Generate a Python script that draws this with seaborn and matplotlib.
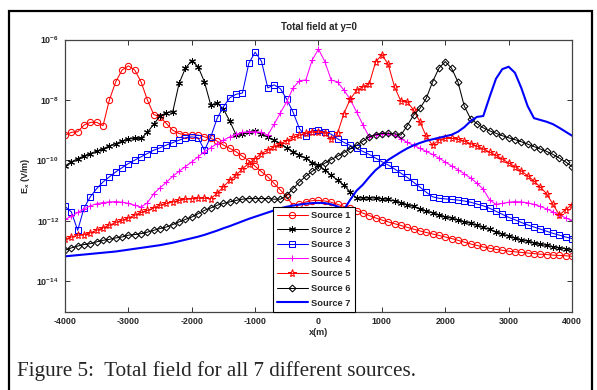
import matplotlib

matplotlib.use("Agg")
import matplotlib.pyplot as plt
import numpy as np
import pandas as pd
import seaborn as sns
from matplotlib.patches import Rectangle
from matplotlib.ticker import NullLocator

# x grid of the computation (m), one sample every 100 m
x_m = np.arange(-4000, 4001, 100)

# log10(Ex), one value per x sample
src1_log = [-9.16, -9.07, -9.05, -8.83, -8.74, -8.74, -8.85, -8.00, -7.40, -7.01,
            -6.87, -7.01, -7.40, -8.00, -8.48, -8.56, -8.78, -9.00, -9.11, -9.15,
            -9.15, -9.16, -9.22, -9.27, -9.36, -9.49, -9.60, -9.71, -9.86, -10.01,
            -10.19, -10.37, -10.54, -10.76, -10.98, -11.20, -11.50, -11.44, -11.37, -11.33,
            -11.32, -11.34, -11.38, -11.45, -11.52, -11.58, -11.66, -11.74, -11.82, -11.90,
            -11.97, -12.03, -12.09, -12.15, -12.21, -12.27, -12.33, -12.38, -12.43, -12.48,
            -12.53, -12.58, -12.64, -12.70, -12.76, -12.81, -12.86, -12.90, -12.94, -12.97,
            -13.00, -13.02, -13.04, -13.06, -13.08, -13.10, -13.11, -13.13, -13.14, -13.15,
            -13.17]
src2_log = [-10.18, -10.05, -9.94, -9.85, -9.77, -9.69, -9.61, -9.52, -9.44, -9.36,
            -9.29, -9.27, -9.27, -9.07, -8.80, -8.53, -8.42, -8.39, -7.45, -6.95,
            -6.70, -6.90, -7.40, -8.17, -8.11, -8.30, -8.70, -9.16, -9.14, -9.07,
            -9.04, -9.11, -9.22, -9.33, -9.44, -9.58, -9.71, -9.82, -9.93, -10.07,
            -10.16, -10.32, -10.49, -10.65, -10.82, -11.04, -11.24, -11.24, -11.24, -11.24,
            -11.26, -11.29, -11.34, -11.39, -11.46, -11.52, -11.59, -11.67, -11.73, -11.80,
            -11.86, -11.91, -11.96, -12.02, -12.08, -12.14, -12.21, -12.28, -12.36, -12.43,
            -12.50, -12.56, -12.62, -12.67, -12.72, -12.77, -12.81, -12.85, -12.89, -12.92,
            -12.95]
src3_log = [-11.52, -11.70, -12.31, -11.57, -11.20, -10.93, -10.71, -10.54, -10.38, -10.24,
            -10.10, -9.99, -9.88, -9.77, -9.66, -9.58, -9.49, -9.41, -9.33, -9.25,
            -9.22, -9.25, -9.66, -9.22, -8.61, -8.22, -7.93, -7.81, -7.77, -6.79,
            -6.42, -6.72, -7.60, -7.50, -7.63, -7.98, -8.41, -8.95, -9.20, -9.02,
            -9.00, -9.05, -9.13, -9.28, -9.40, -9.50, -9.60, -9.70, -9.80, -9.92,
            -10.04, -10.15, -10.28, -10.42, -10.56, -10.72, -10.88, -11.05, -11.20, -11.25,
            -11.27, -11.29, -11.31, -11.34, -11.38, -11.44, -11.50, -11.58, -11.68, -11.78,
            -11.88, -11.96, -12.05, -12.13, -12.20, -12.27, -12.34, -12.41, -12.47, -12.53,
            -12.58]
src4_log = [-11.95, -11.85, -11.72, -11.60, -11.50, -11.43, -11.39, -11.37, -11.36, -11.38,
            -11.42, -11.48, -11.54, -11.40, -11.10, -10.90, -10.72, -10.52, -10.36, -10.20,
            -10.05, -9.88, -9.71, -9.58, -9.44, -9.33, -9.22, -9.14, -9.07, -9.05,
            -9.05, -9.07, -9.16, -8.80, -8.42, -8.05, -7.60, -7.36, -7.34, -6.68,
            -6.32, -6.73, -7.34, -7.40, -7.67, -7.98, -8.39, -8.82, -9.22, -9.15,
            -9.12, -9.13, -9.17, -9.28, -9.40, -9.50, -9.60, -9.70, -9.80, -9.92,
            -10.05, -10.18, -10.30, -10.44, -10.58, -10.75, -10.95, -11.30, -11.45, -11.42,
            -11.38, -11.36, -11.37, -11.40, -11.45, -11.52, -11.60, -11.70, -11.80, -11.90,
            -11.98]
src5_log = [-12.61, -12.53, -12.47, -12.45, -12.39, -12.31, -12.23, -12.14, -12.05, -11.98,
            -11.90, -11.81, -11.72, -11.65, -11.57, -11.48, -11.42, -11.37, -11.32, -11.28,
            -11.26, -11.24, -11.25, -11.26, -11.09, -10.87, -10.65, -10.49, -10.27, -10.10,
            -9.94, -9.77, -9.66, -9.55, -9.44, -9.35, -9.24, -9.16, -9.10, -9.06,
            -9.06, -9.08, -9.30, -9.10, -8.45, -7.98, -7.68, -7.57, -7.47, -6.75,
            -6.50, -6.82, -7.57, -8.04, -8.06, -8.33, -8.72, -9.20, -9.50, -9.32,
            -9.27, -9.27, -9.30, -9.36, -9.44, -9.53, -9.62, -9.72, -9.83, -9.95,
            -10.08, -10.20, -10.35, -10.50, -10.68, -10.88, -11.10, -11.45, -11.80, -11.63,
            -11.46]
src6_log = [-12.97, -12.89, -12.83, -12.78, -12.75, -12.69, -12.64, -12.61, -12.56, -12.53,
            -12.47, -12.45, -12.42, -12.37, -12.31, -12.25, -12.20, -12.12, -12.03, -11.95,
            -11.87, -11.76, -11.65, -11.57, -11.48, -11.42, -11.37, -11.32, -11.28, -11.26,
            -11.26, -11.26, -11.26, -11.28, -11.28, -11.15, -10.93, -10.71, -10.52, -10.36,
            -10.22, -10.09, -9.97, -9.86, -9.74, -9.62, -9.50, -9.36, -9.22, -9.15,
            -9.11, -9.10, -9.12, -9.16, -8.85, -8.50, -8.28, -7.95, -7.40, -6.95,
            -6.73, -6.95, -7.40, -8.20, -8.62, -8.78, -8.92, -9.02, -9.10, -9.18,
            -9.25, -9.31, -9.38, -9.46, -9.54, -9.62, -9.70, -9.80, -9.92, -10.05,
            -10.20]
src7_log = [-13.17, -13.15, -13.13, -13.11, -13.09, -13.07, -13.05, -13.03, -13.01, -12.98,
            -12.95, -12.92, -12.89, -12.86, -12.83, -12.80, -12.76, -12.72, -12.67, -12.62,
            -12.57, -12.52, -12.46, -12.39, -12.32, -12.24, -12.17, -12.09, -12.01, -11.93,
            -11.86, -11.79, -11.72, -11.65, -11.58, -11.53, -11.49, -11.46, -11.43, -11.41,
            -11.40, -11.41, -11.45, -11.52, -11.63, -11.30, -11.00, -10.80, -10.55, -10.32,
            -10.15, -9.98, -9.85, -9.72, -9.60, -9.50, -9.42, -9.35, -9.30, -9.25,
            -9.20, -9.15, -9.05, -8.90, -8.70, -8.56, -8.53, -7.90, -7.30, -6.98,
            -6.90, -7.10, -7.60, -8.20, -8.60, -8.66, -8.72, -8.80, -8.92, -9.05,
            -9.18]

source_names = ["Source 1", "Source 2", "Source 3", "Source 4",
                "Source 5", "Source 6", "Source 7"]
x_ticks = [-4000, -3000, -2000, -1000, 0, 1000, 2000, 3000, 4000]
x_tick_labels = ["-4000", "-3000", "-2000", "-1000", "0", "1000", "2000", "3000", "4000"]
y_ticks = [1e-14, 1e-12, 1e-10, 1e-8, 1e-6]
y_tick_labels = [r"$10^{-14}$", r"$10^{-12}$", r"$10^{-10}$", r"$10^{-8}$", r"$10^{-6}$"]

# matlab-ish line specs: (color, marker, markersize, linewidth)
styles = [
    ("#ff0000", "o", 4.5, 0.75),
    ("#000000", (6, 2, 0), 5.0, 0.75),
    ("#0000ff", "s", 4.5, 0.75),
    ("#ff00ff", "+", 5.0, 0.75),
    ("#ff0000", "*", 5.8, 0.75),
    ("#000000", "D", 3.5, 0.75),
    ("#0000ff", None, 0, 1.5),
]

sns.set_style("ticks")
plt.rcParams["font.family"] = ["Liberation Sans", "DejaVu Sans"]
plt.rcParams["mathtext.fontset"] = "custom"
plt.rcParams["mathtext.rm"] = "Liberation Sans:bold"
plt.rcParams["mathtext.it"] = "Liberation Sans:bold"
plt.rcParams["mathtext.bf"] = "Liberation Sans:bold"

frames = []
for name, vals in zip(source_names, [src1_log, src2_log, src3_log, src4_log,
                                     src5_log, src6_log, src7_log]):
    frames.append(pd.DataFrame({"x": x_m, "Ex": np.power(10.0, vals), "source": name}))
df = pd.concat(frames, ignore_index=True)

fig = plt.figure(figsize=(5.97, 3.90), dpi=100)
ax = fig.add_axes([0.1089, 0.2008, 0.8492, 0.6979])

for name, (col, mk, ms, lw) in zip(source_names, styles):
    sub = df[df["source"] == name]
    kw = dict(color=col, linewidth=lw, label=name)
    if mk is not None:
        kw.update(marker=mk, markersize=ms, markerfacecolor="none",
                  markeredgecolor=col, markeredgewidth=0.75)
    sns.lineplot(data=sub, x="x", y="Ex", ax=ax, estimator=None,
                 errorbar=None, sort=False, **kw)

ax.set_yscale("log")
ax.set_xlim(-4000, 4000)
ax.set_ylim(1e-15, 1e-6)
ax.set_xticks(x_ticks, labels=x_tick_labels)
ax.set_yticks(y_ticks, labels=y_tick_labels)
ax.yaxis.set_minor_locator(NullLocator())
ax.tick_params(direction="in", top=True, right=True, length=3.5, width=0.7,
               labelsize=6.4, color="#333333")
ax.tick_params(axis="x", pad=3.5)
ax.tick_params(axis="y", pad=4.5)
for lab in ax.get_xticklabels():
    lab.set_fontweight("bold")
for sp in ax.spines.values():
    sp.set_color("#444444")
    sp.set_linewidth(0.9)

ax.set_title("Total field at y=0", fontsize=7, fontweight="bold", pad=7)
ax.set_xlabel("x(m)", fontsize=6.5, fontweight="bold", labelpad=2)
ax.set_ylabel(r"$E_x$ (V/m)", fontsize=6.5, fontweight="bold", labelpad=3)

leg = ax.legend(loc="lower left", bbox_to_anchor=(0.41, 0.0), borderaxespad=0,
                frameon=True, fancybox=False, framealpha=1, edgecolor="black",
                prop=dict(family="Liberation Sans", weight="bold", size=6.7),
                handlelength=3.3, labelspacing=0.6, borderpad=0.45,
                handletextpad=0.35)
leg.get_frame().set_linewidth(0.8)

# outer frame around figure + caption
fig.add_artist(Rectangle((8.5 / 597, -0.05), (592 - 8.5) / 597, 0.05 + (390 - 11) / 390,
                         transform=fig.transFigure, fill=False, edgecolor="black",
                         linewidth=1.6))
fig.text(17 / 597, (390 - 371) / 390, "Figure 5:  Total field for all 7 different sources.",
         family="Liberation Serif", fontsize=15.2, va="center", ha="left")

fig.savefig("out.png", dpi=100)
plt.close(fig)
